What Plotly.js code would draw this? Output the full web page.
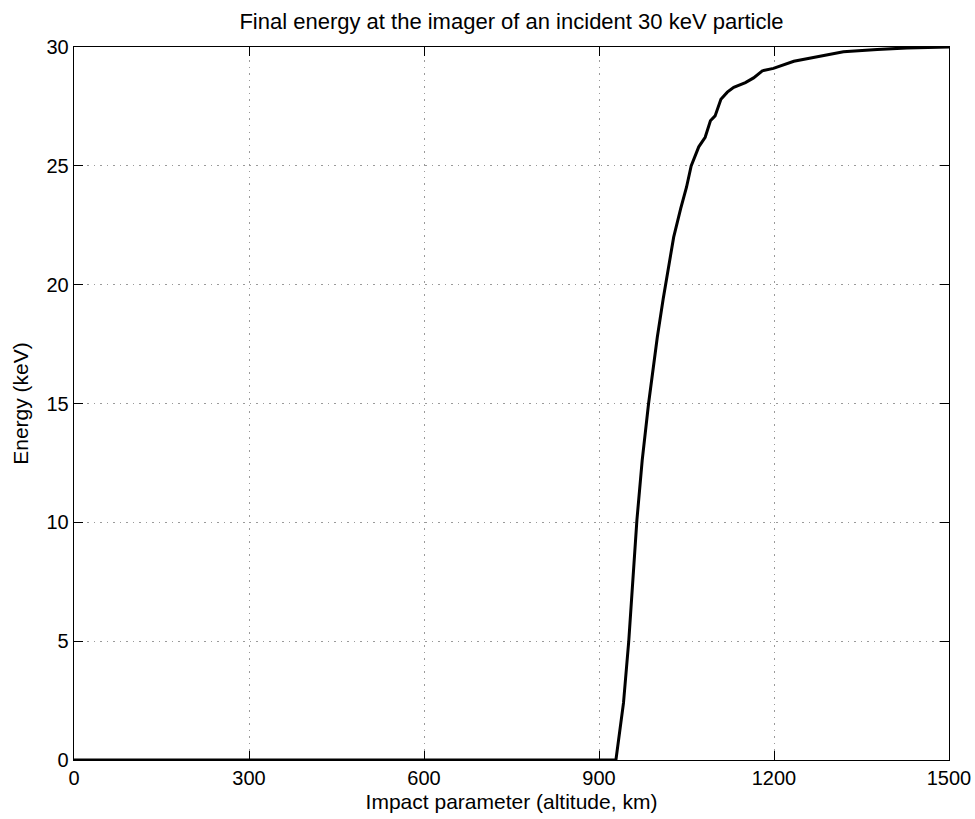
<!DOCTYPE html>
<html>
<head>
<meta charset="utf-8">
<script src="https://cdn.plot.ly/plotly-3.0.1.min.js"></script>
<style>html,body{margin:0;padding:0;background:#fff;}</style>
</head>
<body>
<div id="chart" style="width:975px;height:819px;"></div>
<script>
const altitudeKm = [0, 929, 942, 951, 965, 974, 985, 994, 1000, 1010, 1028, 1040, 1050, 1058, 1071, 1082, 1091, 1099, 1109, 1120, 1131, 1151, 1165, 1180, 1199, 1234, 1274, 1319, 1377, 1428, 1500];
const energyKeV = [0, 0, 2.4, 5.0, 10.1, 12.6, 15.0, 16.8, 17.8, 19.4, 22.0, 23.2, 24.1, 25.0, 25.8, 26.2, 26.9, 27.1, 27.8, 28.1, 28.3, 28.5, 28.7, 29.0, 29.1, 29.4, 29.6, 29.8, 29.9, 29.96, 30.0];
const xTicks = [0, 300, 600, 900, 1200, 1500];
const yTicks = [0, 5, 10, 15, 20, 25, 30];
const titleText = "Final energy at the imager of an incident 30 keV particle";
const xTitle = "Impact parameter (altitude, km)";
const yTitle = "Energy (keV)";

const font = "Liberation Sans, Arial, Helvetica, sans-serif";
const axisCommon = {
  showline: true, linecolor: "#000", linewidth: 1.3, mirror: "ticks",
  ticks: "inside", ticklen: 9, tickcolor: "#000", tickwidth: 1,
  showgrid: true, gridcolor: "#9a9a9a", griddash: "1.5px,5px", gridwidth: 1,
  zeroline: false, tickfont: {family: font, size: 20, color: "#000"}
};
Plotly.newPlot("chart", [{
  x: altitudeKm, y: energyKeV, type: "scatter", mode: "lines",
  line: {color: "#000", width: 3}, hoverinfo: "skip"
}], {
  width: 975, height: 819,
  margin: {l: 74, r: 26, t: 47, b: 59},
  paper_bgcolor: "#fff", plot_bgcolor: "#fff",
  showlegend: false,
  title: {text: titleText, font: {family: font, size: 22, color: "#000"}, xref: "paper", x: 0.5, xanchor: "center", y: 0.984, yanchor: "top"},
  xaxis: Object.assign({}, axisCommon, {
    range: [0, 1500], tickvals: xTicks, ticktext: xTicks.map(String),
    title: {text: xTitle, font: {family: font, size: 21, color: "#000"}, standoff: 6}
  }),
  yaxis: Object.assign({}, axisCommon, {
    range: [0, 30], tickvals: yTicks, ticktext: yTicks.map(String),
    title: {text: yTitle, font: {family: font, size: 21, color: "#000"}, standoff: 12}
  })
}, {staticPlot: true});
</script>
</body>
</html>
